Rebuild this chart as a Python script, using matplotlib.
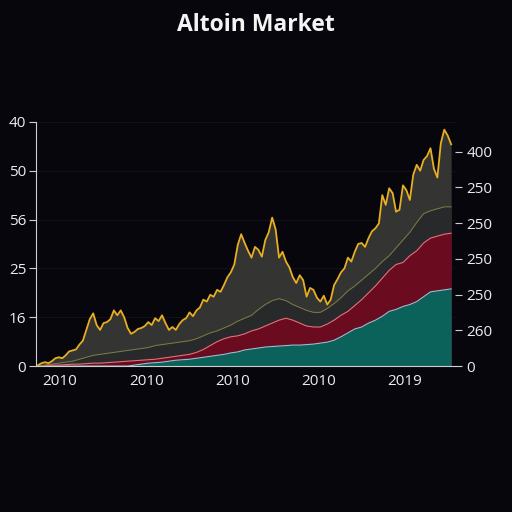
import numpy as np
import matplotlib
matplotlib.use("Agg")
import matplotlib.pyplot as plt

# === Data (arbitrary index units) ===
years = np.linspace(2009.745, 2014.545, 61)
years_fine = np.linspace(2009.745, 2014.545, 121)

# top line, sampled twice as densely to keep its jagged look
total = [1, 3, 4, 3, 5, 8, 9, 8, 11, 15, 16, 17, 22, 26, 37, 48, 54, 42, 37, 44,
         45, 48, 57, 52, 57, 50, 39, 33, 35, 38, 39, 41, 45, 42, 49, 46, 52, 44, 37, 40,
         37, 43, 47, 49, 55, 51, 57, 60, 68, 66, 73, 71, 78, 76, 83, 91, 96, 104, 124, 135,
         126, 118, 111, 122, 119, 112, 129, 137, 152, 140, 111, 117, 107, 101, 91, 85, 93, 88, 71, 80,
         78, 70, 66, 72, 63, 68, 83, 89, 96, 100, 111, 107, 117, 125, 126, 122, 131, 138, 141, 146,
         175, 165, 182, 177, 158, 160, 185, 180, 170, 196, 206, 200, 211, 215, 223, 202, 193, 228, 242, 236,
         227]
mid_gray = [0, 1, 2, 3, 4, 5, 7, 9, 11, 12, 13, 14, 15, 16, 17, 18, 19, 21, 22, 23,
            24, 25, 26, 28, 31, 34, 36, 39, 42, 46, 49, 52, 58, 63, 67, 69, 67, 63, 60, 57,
            55, 55, 59, 64, 70, 77, 82, 88, 94, 100, 107, 113, 121, 129, 137, 147, 156, 159, 161, 163,
            163]
red = [0, 0.5, 1, 1, 1.5, 2, 2, 2.5, 3, 3, 3.5, 4, 4.5, 5, 5.5, 6, 6.5, 7, 8, 9,
       10, 11, 12, 14, 17, 21, 25, 28, 30, 31, 33, 36, 38, 41, 44, 47, 49, 47, 44, 41,
       40, 40, 43, 47, 52, 56, 62, 68, 75, 82, 90, 98, 104, 106, 113, 118, 126, 131, 133, 135,
       136]
teal = [0, 0, 0, 0, 0, 0, 0, 0, 0, 0, 0, 0, 0, 0, 1, 2, 3, 3.5, 4, 5,
        6, 6.5, 7, 8, 9, 10, 11, 12, 13.5, 14.5, 16.5, 17.5, 18.5, 19.5, 20, 20.5, 21, 21.5, 21.5, 22,
        22.5, 23.5, 24.5, 26.5, 30, 34, 38, 40, 44, 47, 51, 56, 58, 61, 63, 66, 71, 76, 77, 78,
        79]

left_ticks = [0, 50, 100, 150, 200, 250]
left_labels = ['0', '16', '25', '56', '50', '40']
right_ticks = [0, 1, 2, 3, 4, 5, 6]
right_labels = ['0', '260', '250', '250', '250', '250', '400']
year_ticks = [2010, 2011, 2012, 2013, 2014]
year_labels = ['2010', '2010', '2010', '2010', '2019']

# === Plot ===
BG = '#07060d'
TXT = '#ececec'
plt.rcParams['font.family'] = ['Open Sans', 'DejaVu Sans']

fig = plt.figure(figsize=(5.12, 5.12), dpi=100, facecolor=BG)
ax = fig.add_axes([0.0703, 0.285, 0.8184, 0.477], facecolor=BG)

# layers painted back to front, each one covering the one below
ax.fill_between(years_fine, 0, total, color='#343432', lw=0)
ax.fill_between(years, 0, mid_gray, color='#27292a', lw=0)
ax.fill_between(years, 0, red, color='#6a0b1f', lw=0)
ax.fill_between(years, 0, teal, color='#0b625a', lw=0)

ax.plot(years, teal, color='#8cc6d4', lw=0.8)
ax.plot(years, red, color='#f06a78', lw=0.8)
ax.plot(years, mid_gray, color='#7d7d45', lw=0.7)
ax.plot(years_fine, total, color='#e8b020', lw=1.3)

ax.set_xlim(2009.72, 2014.59)
ax.set_ylim(0, 250)
ax.set_yticks(left_ticks)
ax.set_yticklabels(left_labels)
ax.set_xticks(year_ticks)
ax.set_xticklabels(year_labels)
minor = [y + f for y in range(2009, 2015) for f in (0.33, 0.5, 0.67)]
ax.set_xticks([m for m in minor if 2009.72 < m < 2014.59], minor=True)

ax.grid(axis='y', color='#131219', lw=0.7)
ax.set_axisbelow(True)
for s in ('top', 'right'):
    ax.spines[s].set_visible(False)
ax.spines['left'].set_color('#cfcfcf')
ax.spines['bottom'].set_color('#cfcfcf')
ax.tick_params(axis='y', colors=TXT, labelsize=11, length=5, color='#cfcfcf', pad=2)
ax.tick_params(axis='x', which='both', direction='in', colors=TXT, labelsize=11,
               length=4, color='#cfcfcf', pad=6)

ax2 = ax.twinx()
ax2.set_ylim(0, 6.83)
ax2.set_yticks(right_ticks)
ax2.set_yticklabels(right_labels)
for s in ('top', 'right', 'left', 'bottom'):
    ax2.spines[s].set_visible(False)
ax2.tick_params(axis='y', colors=TXT, labelsize=11, length=5, color='#cfcfcf', pad=3)

fig.text(0.5, 0.952, 'Altoin Market', ha='center', va='center', color='#f4f4f4',
         fontsize=16.5, fontweight='bold')

fig.savefig('out.png', dpi=100, facecolor=BG)
